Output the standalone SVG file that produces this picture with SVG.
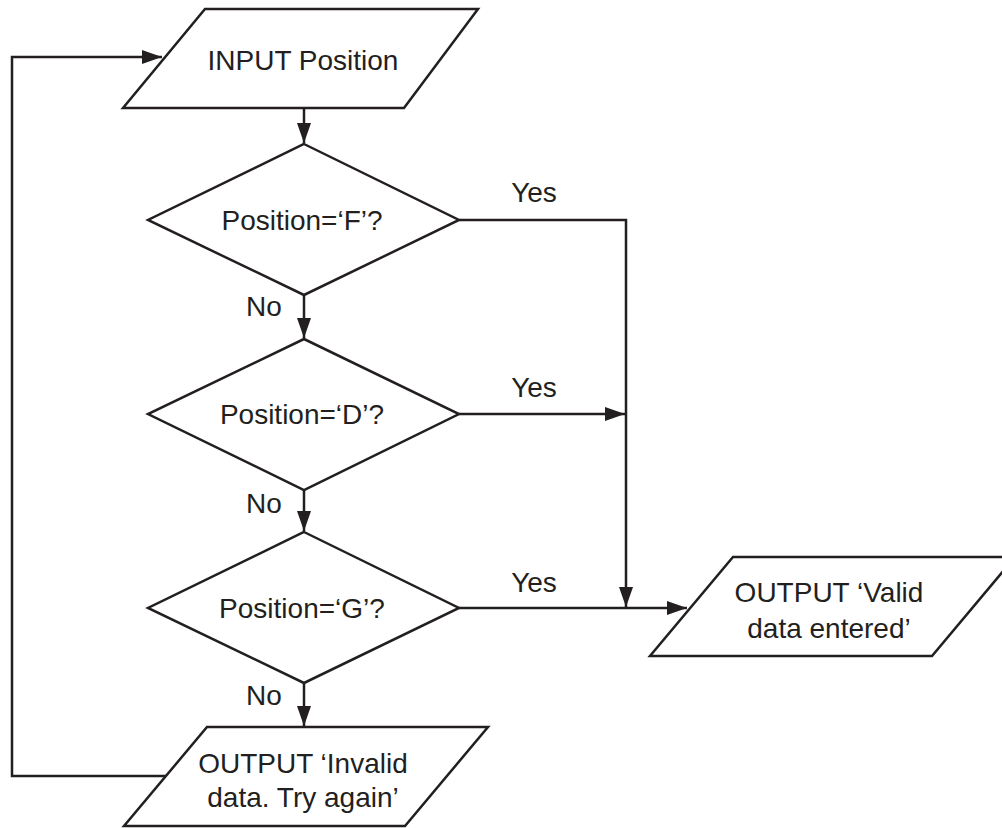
<svg xmlns="http://www.w3.org/2000/svg" width="1002" height="828" viewBox="0 0 1002 828">
<defs>
<style>
.shape{fill:#fff;stroke:#231f20;stroke-width:2.5;stroke-linejoin:miter}
.line{fill:none;stroke:#231f20;stroke-width:2.5}
text{font-family:"Liberation Sans",Arial,sans-serif;font-size:28px;fill:#231f20}
.c{text-anchor:middle}
</style>
<marker id="arr" markerWidth="20" markerHeight="14" refX="20" refY="7" orient="auto" markerUnits="userSpaceOnUse">
<path d="M0,0 L20,7 L0,14 Z" fill="#231f20"/>
</marker>
</defs>
<rect width="1002" height="828" fill="#fff"/>
<g id="connectors">
<path class="line" d="M304,108 V143" marker-end="url(#arr)"/>
<path class="line" d="M304,295 V338" marker-end="url(#arr)"/>
<path class="line" d="M304,490 V531" marker-end="url(#arr)"/>
<path class="line" d="M304,683 V726" marker-end="url(#arr)"/>
<path class="line" d="M459,220 H626 V607" marker-end="url(#arr)"/>
<path class="line" d="M459,414 H625" marker-end="url(#arr)"/>
<path class="line" d="M459,608 H687" marker-end="url(#arr)"/>
<path class="line" d="M166,776 H12 V57 H162" marker-end="url(#arr)"/>
<text x="534" y="202" class="c">Yes</text>
<text x="534" y="397" class="c">Yes</text>
<text x="534" y="592" class="c">Yes</text>
<text x="264" y="316" class="c">No</text>
<text x="264" y="513" class="c">No</text>
<text x="264" y="705" class="c">No</text>
</g>
<g id="input">
<polygon class="shape" points="205,9 478,9 404,108 123,108"/>
<text x="303" y="70" class="c">INPUT Position</text>
</g>
<g id="decF">
<polygon class="shape" points="304,144 459,220 304,295 148,220"/>
<text x="302" y="230" class="c">Position=‘F’?</text>
</g>
<g id="decD">
<polygon class="shape" points="304,339 459,414 304,490 148,414"/>
<text x="302" y="424" class="c">Position=‘D’?</text>
</g>
<g id="decG">
<polygon class="shape" points="304,532 459,608 304,683 148,608"/>
<text x="302" y="618" class="c">Position=‘G’?</text>
</g>
<g id="valid">
<polygon class="shape" points="733,557 1015,557 932,656 650,656"/>
<text x="829" y="602" class="c">OUTPUT ‘Valid</text>
<text x="829" y="638" class="c">data entered’</text>
</g>
<g id="invalid">
<polygon class="shape" points="207,727 488,727 405,826 124,826"/>
<text x="303" y="773" class="c">OUTPUT ‘Invalid</text>
<text x="303" y="807" class="c">data. Try again’</text>
</g>
</svg>
